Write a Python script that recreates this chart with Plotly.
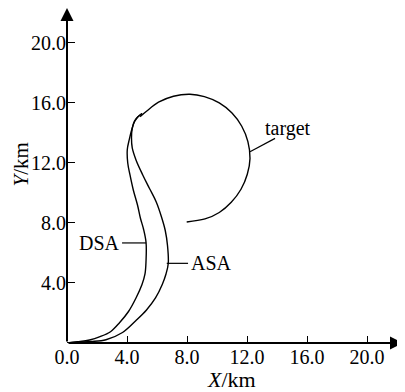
import plotly.graph_objects as go

# ---- data ----
target_x = [7.98, 9.2, 10.15, 10.95, 11.6, 12.02, 12.2, 12.06, 11.65, 11.0, 10.15, 9.16, 8.2, 7.1, 6.1, 5.3, 4.87]
target_y = [8.07, 8.27, 8.7, 9.38, 10.25, 11.25, 12.3, 13.42, 14.45, 15.33, 16.0, 16.42, 16.58, 16.45, 16.05, 15.45, 15.09]

dsa_x = [0, 0.7, 1.5, 2.2, 2.9, 3.5, 4.1, 4.6, 5.0, 5.2, 5.27, 5.27, 5.1, 4.9, 4.7, 4.42, 4.2, 4.05, 4.02, 4.15, 4.31, 4.5, 4.75, 5.0]
dsa_y = [0, 0.08, 0.2, 0.42, 0.75, 1.35, 2.1, 3.0, 3.9, 4.6, 5.5, 6.7, 7.6, 8.3, 9.2, 10.2, 11.2, 12.0, 12.9, 13.55, 14.2, 14.75, 15.1, 15.3]

asa_x = [0, 0.7, 1.6, 2.6, 3.7, 4.6, 5.3, 5.9, 6.35, 6.6, 6.75, 6.7, 6.55, 6.3, 5.95, 5.5, 5.05, 4.6, 4.35, 4.3, 4.35, 4.5, 4.75, 5.0]
asa_y = [0, 0.05, 0.1, 0.22, 0.7, 1.5, 2.2, 3.0, 3.9, 4.6, 5.3, 6.5, 7.5, 8.4, 9.4, 10.3, 11.2, 12.2, 13.0, 13.7, 14.3, 14.8, 15.1, 15.3]

x_ticks = [0, 4, 8, 12, 16, 20]
x_ticktext = ["0.0", "4.0", "8.0", "12.0", "16.0", "20.0"]
y_ticks = [4, 8, 12, 16, 20]
y_ticktext = ["4.0", "8.0", "12.0", "16.0", "20.0"]

FONT = "Liberation Serif"
OFF = 8  # page body margin
W, H = 405 - OFF, 392 - OFF
ML, MR, MT, MB = 67 - OFF, 2, 0, 49

fig = go.Figure()
for xs, ys in [(target_x, target_y), (dsa_x, dsa_y), (asa_x, asa_y)]:
    fig.add_trace(go.Scatter(x=xs, y=ys, mode="lines",
                             line=dict(color="black", width=1.4, shape="spline", smoothing=1.0),
                             cliponaxis=False, showlegend=False, hoverinfo="skip"))

XMAX, YMAX = 22.4, 22.33

# axis lines with arrows
for (tx, ty) in [(XMAX, 0), (0, YMAX)]:
    fig.add_annotation(x=tx, y=ty, ax=0, ay=0, xref="x", yref="y", axref="x", ayref="y",
                       text="", showarrow=True, arrowhead=2, arrowsize=1.3, arrowwidth=2,
                       arrowcolor="black", standoff=0, startstandoff=0)

# leader lines
leaders = [((3.67, 6.67), (5.27, 6.67)), ((6.65, 5.31), (8.07, 5.31)), ((12.2, 12.75), (13.87, 13.64))]
for (x0, y0), (x1, y1) in leaders:
    fig.add_shape(type="line", x0=x0, y0=y0, x1=x1, y1=y1, xref="x", yref="y",
                  line=dict(color="black", width=1.2))

lab_font = dict(family=FONT, size=20, color="black")
fig.add_annotation(x=3.67, y=6.67, text="DSA", showarrow=False, xanchor="right", yanchor="middle", font=lab_font)
fig.add_annotation(x=8.15, y=5.31, text="ASA", showarrow=False, xanchor="left", yanchor="middle", font=lab_font)
fig.add_annotation(x=13.05, y=14.33, text="target", showarrow=False, xanchor="left", yanchor="middle", font=lab_font)

# axis titles (positions in page pixels converted to paper coords)
pw, ph = W - ML - MR, H - MT - MB
def px(xp):
    return (xp - OFF - ML) / pw
def py(yp):
    return (H - MB - (yp - OFF)) / ph
fig.add_annotation(xref="paper", yref="paper", x=px(231), y=py(379),
                   text="<i>X</i>/km", showarrow=False, xanchor="center", yanchor="middle",
                   font=dict(family=FONT, size=22, color="black"))
fig.add_annotation(xref="paper", yref="paper", x=px(20.5), y=py(165),
                   text="<i>Y</i>/km", showarrow=False, xanchor="center", yanchor="middle",
                   textangle=-90, font=dict(family=FONT, size=21, color="black"))

fig.update_layout(
    width=W, height=H,
    margin=dict(l=ML, r=MR, t=MT, b=MB),
    paper_bgcolor="white", plot_bgcolor="white",
    font=dict(family=FONT, size=20, color="black"),
    xaxis=dict(range=[0, XMAX], showgrid=False, zeroline=False, showline=False, automargin=False,
               tickmode="array", tickvals=x_ticks, ticktext=x_ticktext,
               ticks="inside", ticklen=7, tickwidth=1.3, tickcolor="black",
               tickfont=dict(family=FONT, size=20)),
    yaxis=dict(range=[0, YMAX], showgrid=False, zeroline=False, showline=False, automargin=False,
               tickmode="array", tickvals=y_ticks, ticktext=y_ticktext,
               ticks="inside", ticklen=8, tickwidth=1.3, tickcolor="black",
               tickfont=dict(family=FONT, size=20)),
)

fig.write_html("out.html")
